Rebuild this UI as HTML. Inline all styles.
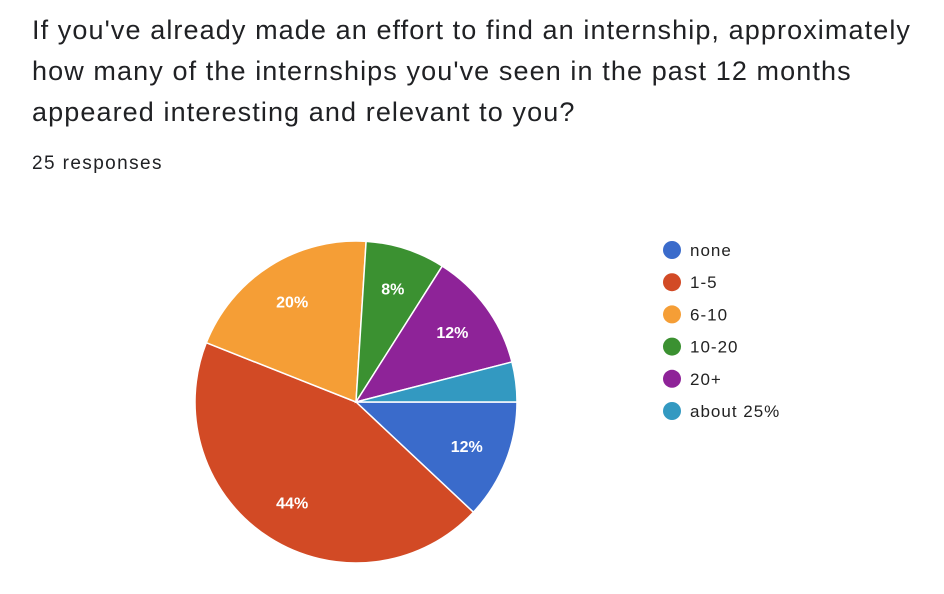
<!DOCTYPE html>
<html><head><meta charset="utf-8"><style>
body{margin:0;background:#fff;width:944px;height:594px;overflow:hidden;font-family:"Liberation Sans",Arial,sans-serif}
.title{position:absolute;left:32px;top:10px;font-size:27px;letter-spacing:1.1px;line-height:41px;color:#202124;width:905px}
.resp{position:absolute;left:32px;top:153px;font-size:19px;letter-spacing:1.4px;color:#202124}
</style></head><body>
<div class="title">If you've already made an effort to find an internship, approximately how many of the internships you've seen in the past 12 months appeared interesting and relevant to you?</div>
<div class="resp">25 responses</div>
<svg id="chart" width="944" height="594" style="position:absolute;left:0;top:0"></svg>
<script>
const categories=["none","1-5","6-10","10-20","20+","about 25%"];
const values=[3,11,5,2,3,1];
const colors=["#3a6bcb","#d24a25","#f59e36","#3b9131","#8e2398","#3399c1"];
const NS="http://www.w3.org/2000/svg";
const svg=document.getElementById("chart");
const cx=356,cy=402,r=161;
const total=values.reduce((a,b)=>a+b,0);
let a0=0;
values.forEach((v,i)=>{
  const a1=a0+v/total*2*Math.PI;
  const p=document.createElementNS(NS,"path");
  const x0=cx+r*Math.cos(a0),y0=cy+r*Math.sin(a0),x1=cx+r*Math.cos(a1),y1=cy+r*Math.sin(a1);
  const large=(a1-a0)>Math.PI?1:0;
  p.setAttribute("d",`M${cx},${cy}L${x0},${y0}A${r},${r} 0 ${large} 1 ${x1},${y1}Z`);
  p.setAttribute("fill",colors[i]);p.setAttribute("stroke","#fff");p.setAttribute("stroke-width","1.5");
  
  
  svg.appendChild(p);
  const pct=Math.round(v/total*100);
  if(pct>=5){
    const m=(a0+a1)/2;
    const t=document.createElementNS(NS,"text");
    t.setAttribute("x",cx+0.74*r*Math.cos(m));t.setAttribute("y",cy+0.74*r*Math.sin(m)+6);
    t.setAttribute("text-anchor","middle");t.setAttribute("fill","#fff");t.setAttribute("font-size","16");
    t.setAttribute("font-weight","bold");
    t.textContent=pct+"%";
    
    
    svg.appendChild(t);
  }
  a0=a1;
});
categories.forEach((c,i)=>{
  const y=250+i*32.2;
  const g=document.createElementNS(NS,"g");
  
  
  const ci=document.createElementNS(NS,"circle");
  ci.setAttribute("cx",672);ci.setAttribute("cy",y);ci.setAttribute("r",9);ci.setAttribute("fill",colors[i]);
  const t=document.createElementNS(NS,"text");
  t.setAttribute("x",690);t.setAttribute("y",y+6);t.setAttribute("font-size","17");t.setAttribute("fill","#222");
  t.setAttribute("letter-spacing","1");
  t.textContent=c;
  g.appendChild(ci);g.appendChild(t);svg.appendChild(g);
});
</script>
</body></html>
